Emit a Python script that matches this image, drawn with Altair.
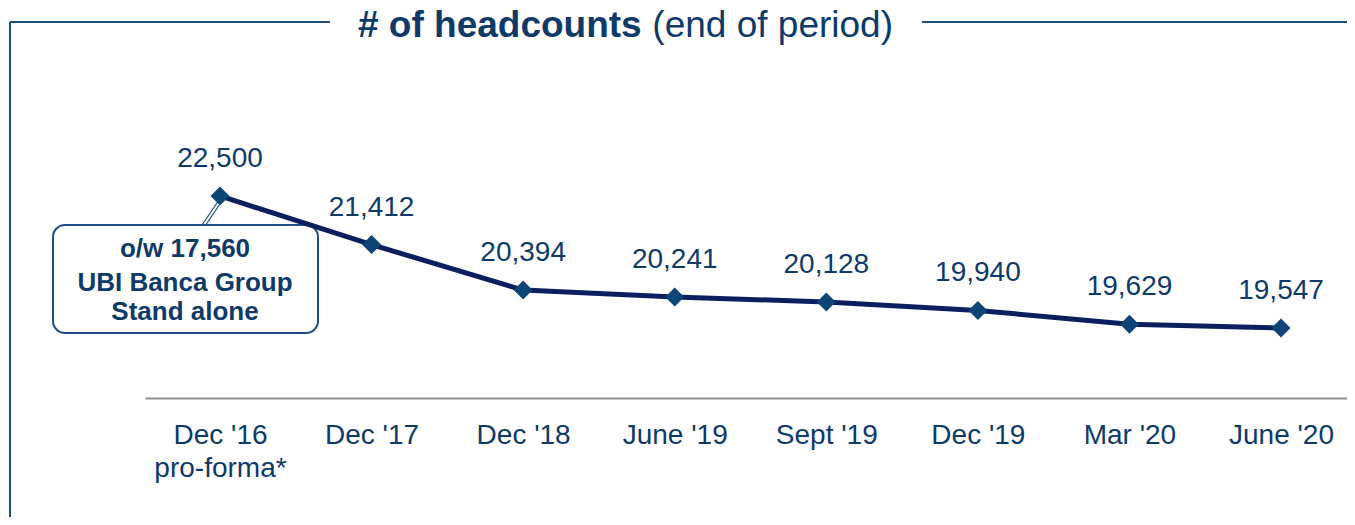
import altair as alt
import pandas as pd

# ---- data ----
periods = ["Dec '16|pro-forma*", "Dec '17", "Dec '18", "June '19", "Sept '19",
           "Dec '19", "Mar '20", "June '20"]
headcounts = [22500, 21412, 20394, 20241, 20128, 19940, 19629, 19547]
title_bold = "# of headcounts"
title_regular = "(end of period)"
note_lines = ["o/w 17,560", "UBI Banca Group", "Stand alone"]

df = pd.DataFrame({"period": periods, "headcount": headcounts})
one = pd.DataFrame({"k": [0]})

FONT = "Arial, Liberation Sans, Helvetica, sans-serif"
TEXT_C = "#0e3a6a"
LINE_C = "#0b1f5e"
DIAM_C = "#0d4477"
FRAME_C = "#1d4e7f"
AXIS_C = "#8f8f8f"

W, H = 1202, 358

x = alt.X(
    "period:N", sort=periods, title=None,
    scale=alt.Scale(type="point", padding=0.465, align=0.532),
    axis=alt.Axis(
        labelExpr="split(datum.label, '|')", labelAngle=0,
        labelFont=FONT, labelFontSize=28, labelColor=TEXT_C,
        labelLineHeight=33, labelPadding=23, ticks=False, grid=False,
        domainColor=AXIS_C, domainWidth=2, labelBaseline="top",
    ),
)
y = alt.Y("headcount:Q", scale=alt.Scale(domain=[17980, 25990], zero=False, nice=False), axis=None)

base = alt.Chart(df)
line = base.mark_line(color=LINE_C, strokeWidth=5).encode(x=x, y=y)
pts = base.mark_point(shape="diamond", filled=True, size=360, color=DIAM_C, opacity=1).encode(x=x, y=y)
labels = base.mark_text(dy=-37, fontSize=28, font=FONT, color=TEXT_C, baseline="middle").encode(
    x=x, y=y, text=alt.Text("headcount:Q", format=",")
)

deco = alt.Chart(one)
frame_left = deco.mark_rule(color=FRAME_C, strokeWidth=2).encode(
    x=alt.value(-135), x2=alt.value(-135), y=alt.value(-18), y2=alt.value(477))
frame_top1 = deco.mark_rule(color=FRAME_C, strokeWidth=2).encode(
    x=alt.value(-135), x2=alt.value(185), y=alt.value(-18), y2=alt.value(-18))
frame_top2 = deco.mark_rule(color=FRAME_C, strokeWidth=2).encode(
    x=alt.value(777), x2=alt.value(W), y=alt.value(-18), y2=alt.value(-18))

t1 = deco.mark_text(text=title_bold, font=FONT, fontSize=37, fontWeight="bold",
                    color=TEXT_C, align="left", baseline="alphabetic").encode(
    x=alt.value(213), y=alt.value(-3))
t2 = deco.mark_text(text=title_regular, font=FONT, fontSize=37, color=TEXT_C,
                    align="right", baseline="alphabetic").encode(
    x=alt.value(748), y=alt.value(-3))

conn1 = deco.mark_rule(color=FRAME_C, strokeWidth=1.2).encode(
    x=alt.value(74), y=alt.value(160), x2=alt.value(57), y2=alt.value(185))
conn2 = deco.mark_rule(color=FRAME_C, strokeWidth=1.2).encode(
    x=alt.value(77), y=alt.value(161), x2=alt.value(60), y2=alt.value(186))
box = deco.mark_rect(cornerRadius=12, fill="white", stroke=FRAME_C, strokeWidth=2).encode(
    x=alt.value(-92), x2=alt.value(173), y=alt.value(185), y2=alt.value(293))

note_y = [217, 251, 280]
notes = [
    deco.mark_text(text=t, font=FONT, fontSize=26, fontWeight="bold", color=TEXT_C,
                   align="center", baseline="alphabetic").encode(x=alt.value(40), y=alt.value(yy))
    for t, yy in zip(note_lines, note_y)
]

chart = alt.layer(
    frame_left, frame_top1, frame_top2, t1, t2, conn1, conn2, box, *notes, line, pts, labels
).properties(
    width=W, height=H,
    autosize=alt.AutoSizeParams(type="none"),
    padding={"left": 137, "top": 32, "right": 0, "bottom": 119},
).configure_view(stroke=None)

chart.save("out.html", embed_options={"renderer": "svg", "actions": False})
